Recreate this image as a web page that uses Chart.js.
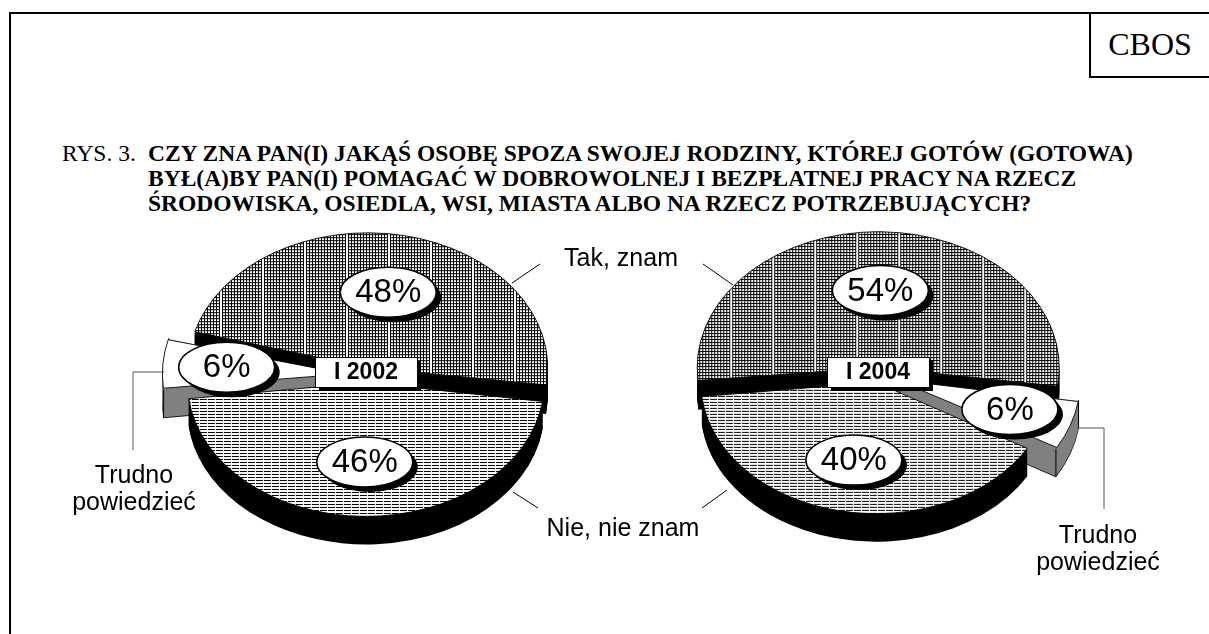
<!DOCTYPE html>
<html lang="pl">
<head>
<meta charset="utf-8">
<script src="https://cdn.jsdelivr.net/npm/chart.js@4.4.0/dist/chart.umd.min.js"></script>
<style>
  html, body { margin: 0; padding: 0; background: #fff; width: 1209px; height: 634px; overflow: hidden; }
  #ramka { position: absolute; left: 9px; top: 12px; width: 1300px; height: 700px; border: 2px solid #000; }
  #cbos { position: absolute; left: 1089px; top: 12px; width: 200px; height: 64px; border-left: 2px solid #000; border-bottom: 2px solid #000;
          font-family: "Liberation Serif", "Times New Roman", serif; font-size: 32px; line-height: 37px; }
  #cbos span { position: absolute; left: 0; width: 118px; top: 14px; text-align: center; }
  .serif { position: absolute; font-family: "Liberation Serif", "Times New Roman", serif; font-size: 23.5px; line-height: 25px; white-space: nowrap; }
  #rys { left: 62px; top: 141px; }
  #tytul { left: 148px; top: 141px; font-weight: bold; }
  .wykres { position: absolute; top: 145px; }
  #linie { position: absolute; left: 0; top: 0; z-index: 2; }
  .opis { position: absolute; z-index: 3; font-family: "Liberation Sans", Arial, sans-serif; font-size: 25px; line-height: 27px;
          text-align: center; white-space: nowrap; transform: translate(-50%, -50%); }
</style>
</head>
<body>
<div id="ramka"></div>
<div id="cbos"><span>CBOS</span></div>
<div id="rys" class="serif">RYS. 3.</div>
<div id="tytul" class="serif">CZY ZNA PAN(I) JAKĄŚ OSOBĘ SPOZA SWOJEJ RODZINY, KTÓREJ GOTÓW (GOTOWA)<br>BYŁ(A)BY PAN(I) POMAGAĆ W DOBROWOLNEJ I BEZPŁATNEJ PRACY NA RZECZ<br>ŚRODOWISKA, OSIEDLA, WSI, MIASTA ALBO NA RZECZ POTRZEBUJĄCYCH?</div>

<canvas id="wykres2002" class="wykres" width="460" height="460" style="left:136px"></canvas>
<canvas id="wykres2004" class="wykres" width="460" height="460" style="left:648px"></canvas>

<svg id="linie" width="1209" height="634">
  <g stroke="#000" stroke-width="1" fill="none">
    <line x1="512" y1="283" x2="540" y2="264"/>
    <line x1="733" y1="285" x2="703" y2="264"/>
    <line x1="513" y1="492" x2="538" y2="508"/>
    <line x1="727" y1="490" x2="702" y2="508"/>
  </g>
  <g stroke="#555" stroke-width="1" fill="none">
    <polyline points="164,372 133,372 133,450"/>
    <polyline points="1077,428 1104,428 1104,509"/>
  </g>
</svg>

<script>
// dane
const categories = ['Tak, znam', 'Nie, nie znam', 'Trudno powiedzieć'];
const years = ['I 2002', 'I 2004'];
const values2002 = [48, 46, 6];
const values2004 = [54, 40, 6];
// kolejnosc wycinkow (zgodnie z ruchem wskazowek) na kazdym wykresie
const order2002 = [0, 1, 2];
const order2004 = [0, 2, 1];

// wyglad
const SY = 0.75;          // splaszczenie elipsy
const GLEBOKOSC = 28;     // grubosc "plastra"
const wysuniecie = [40, 40, 80];
const kolorBoku = ['#000', '#000', '#808080'];
const promienEtykiety = [0.6, 0.62, 0.7];
const opisy = [
  { tekst: categories[0], x: 621, y: 257 },
  { tekst: categories[1], x: 623, y: 527 },
  { tekst: 'Trudno<br>powiedzieć', x: 134, y: 488 },
  { tekst: 'Trudno<br>powiedzieć', x: 1098, y: 548 }
];

// wzory wypelnienia
function wzorKratka() {
  const c = document.createElement('canvas');
  c.width = 42; c.height = 3;
  const g = c.getContext('2d');
  g.fillStyle = '#fff'; g.fillRect(0, 0, 42, 3);
  g.fillStyle = '#000';
  for (let x = 0; x < 40; x += 3) g.fillRect(x, 0, 1, 3);
  g.fillRect(0, 0, 40, 1);
  const p = g.createPattern(c, 'repeat');
  p.setTransform(new DOMMatrix().scale(1, 1 / SY));
  return p;
}
function wzorPaski() {
  const c = document.createElement('canvas');
  c.width = 8; c.height = 3;
  const g = c.getContext('2d');
  g.fillStyle = '#fff'; g.fillRect(0, 0, 8, 3);
  g.fillStyle = '#000'; g.fillRect(0, 0, 7, 1);
  const p = g.createPattern(c, 'repeat');
  p.setTransform(new DOMMatrix().scale(1, 1 / SY));
  return p;
}
const wzory = [wzorKratka(), wzorPaski(), '#fff'];

// geometria wycinka tak jak rysuje go Chart.js (z wysunieciem)
function geometria(arc) {
  const off = (arc.options.offset || 0) / 4;
  const pol = (arc.startAngle + arc.endAngle) / 2;
  const fix = 1 - Math.sin(Math.min(Math.PI, arc.circumference));
  return { x: arc.x + Math.cos(pol) * off, y: arc.y + Math.sin(pol) * off, r: arc.outerRadius + off * fix, pol: pol, off: off };
}
function splaszcz(ctx, cx, cy) {
  ctx.translate(cx, cy);
  ctx.scale(1, SY);
  ctx.translate(-cx, -cy);
}

const pie3d = {
  id: 'pie3d',
  beforeDatasetsDraw(chart) {
    const ctx = chart.ctx;
    const opt = chart.options.plugins.pie3d;
    const arcs = chart.getDatasetMeta(0).data;
    const cx = arcs[0].x, cy = arcs[0].y;
    // boki: najpierw wycinki z tylu
    const kolej = arcs.map((a, i) => i).sort((a, b) => Math.sin(geometria(arcs[a]).pol) - Math.sin(geometria(arcs[b]).pol));
    kolej.forEach(i => {
      const g = geometria(arcs[i]);
      const a = arcs[i];
      for (let d = GLEBOKOSC; d >= 1; d--) {
        ctx.save();
        ctx.translate(0, d);
        splaszcz(ctx, cx, cy);
        ctx.beginPath();
        ctx.moveTo(g.x, g.y);
        ctx.arc(g.x, g.y, g.r, a.startAngle, a.endAngle);
        ctx.closePath();
        ctx.fillStyle = opt.boki[i];
        ctx.fill();
        if (d === GLEBOKOSC && opt.boki[i] !== '#000') {
          ctx.lineWidth = 1;
          ctx.strokeStyle = '#000';
          ctx.stroke();
        }
        ctx.restore();
      }
      if (opt.boki[i] !== '#000') {
        // pionowe krawedzie
        const pkt = [[g.x, g.y], [g.x + Math.cos(a.startAngle) * g.r, g.y + Math.sin(a.startAngle) * g.r],
                     [g.x + Math.cos(a.endAngle) * g.r, g.y + Math.sin(a.endAngle) * g.r]];
        ctx.save();
        ctx.strokeStyle = '#000';
        ctx.lineWidth = 1;
        pkt.forEach(p => {
          const sy = cy + (p[1] - cy) * SY;
          ctx.beginPath();
          ctx.moveTo(p[0], sy);
          ctx.lineTo(p[0], sy + GLEBOKOSC);
          ctx.stroke();
        });
        ctx.restore();
      }
    });
    ctx.save();
    splaszcz(ctx, cx, cy);
  },
  afterDatasetsDraw(chart) {
    const ctx = chart.ctx;
    ctx.restore();
    const opt = chart.options.plugins.pie3d;
    const arcs = chart.getDatasetMeta(0).data;
    const dane = chart.data.datasets[0].data;
    const cx = arcs[0].x, cy = arcs[0].y;

    // rok w srodku
    ctx.save();
    ctx.font = 'bold 23px "Liberation Sans", Arial, sans-serif';
    const w = 102, h = 30, bx = cx - w / 2, by = cy - 3 - h / 2;
    ctx.fillStyle = '#000';
    ctx.fillRect(bx + 4, by + 4, w, h);
    ctx.fillStyle = '#fff';
    ctx.fillRect(bx, by, w, h);
    ctx.strokeStyle = '#000';
    ctx.lineWidth = 1;
    ctx.strokeRect(bx + 0.5, by + 0.5, w, h);
    ctx.fillStyle = '#000';
    ctx.textAlign = 'center';
    ctx.textBaseline = 'middle';
    ctx.fillText(opt.rok, cx, by + h / 2 + 1);
    ctx.restore();

    // etykiety procentowe w elipsach
    arcs.forEach((arc, i) => {
      const g = geometria(arc);
      const rr = opt.etykiety[i] * arc.outerRadius + g.off;
      const x = arc.x + Math.cos(g.pol) * rr;
      const y = cy + Math.sin(g.pol) * rr * SY;
      ctx.save();
      ctx.fillStyle = '#000';
      ctx.beginPath();
      ctx.ellipse(x + 5, y + 5, 48, 25, 0, 0, Math.PI * 2);
      ctx.fill();
      ctx.fillStyle = '#fff';
      ctx.strokeStyle = '#000';
      ctx.lineWidth = 1.5;
      ctx.beginPath();
      ctx.ellipse(x, y, 48, 25, 0, 0, Math.PI * 2);
      ctx.fill();
      ctx.stroke();
      ctx.fillStyle = '#000';
      ctx.font = '33px "Liberation Sans", Arial, sans-serif';
      ctx.textAlign = 'center';
      ctx.textBaseline = 'middle';
      ctx.fillText(dane[i] + '%', x, y + 1);
      ctx.restore();
    });
  }
};

function wykres(id, wartosci, kolejnosc, obrot, rok) {
  new Chart(document.getElementById(id), {
    type: 'pie',
    data: {
      labels: kolejnosc.map(i => categories[i]),
      datasets: [{
        data: kolejnosc.map(i => wartosci[i]),
        backgroundColor: kolejnosc.map(i => wzory[i]),
        borderColor: '#000',
        borderWidth: 1,
        offset: kolejnosc.map(i => wysuniecie[i]),
        radius: 171,
        clip: false
      }]
    },
    options: {
      responsive: false,
      animation: false,
      events: [],
      rotation: obrot,
      layout: { padding: 0 },
      plugins: {
        legend: { display: false },
        tooltip: { enabled: false },
        pie3d: {
          rok: rok,
          boki: kolejnosc.map(i => kolorBoku[i]),
          etykiety: kolejnosc.map(i => promienEtykiety[i])
        }
      }
    },
    plugins: [pie3d]
  });
}

wykres('wykres2002', values2002, order2002, 285, years[0]);
wykres('wykres2004', values2004, order2004, 264, years[1]);

opisy.forEach(o => {
  const el = document.createElement('div');
  el.className = 'opis';
  el.innerHTML = o.tekst;
  el.style.left = o.x + 'px';
  el.style.top = o.y + 'px';
  document.body.appendChild(el);
});
</script>
</body>
</html>
